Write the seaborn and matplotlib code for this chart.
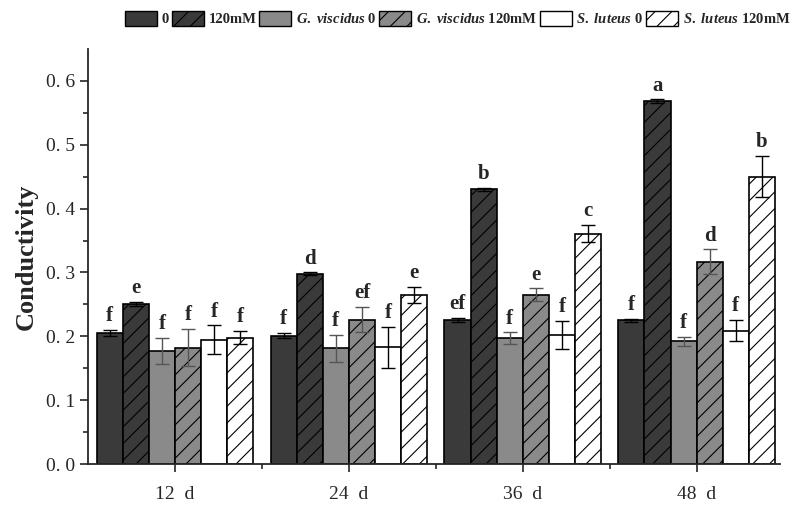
import pandas as pd
import matplotlib.pyplot as plt
import seaborn as sns
import numpy as np
from matplotlib.patches import Patch

days = ['12  d', '24  d', '36  d', '48  d']
treatments = ['0', '120mM', 'G. viscidus 0', 'G. viscidus 120mM', 'S. luteus 0', 'S. luteus 120mM']

means = {
    '0':                 [0.205, 0.201, 0.226, 0.225],
    '120mM':             [0.251, 0.298, 0.430, 0.568],
    'G. viscidus 0':     [0.177, 0.181, 0.197, 0.192],
    'G. viscidus 120mM': [0.182, 0.226, 0.265, 0.317],
    'S. luteus 0':       [0.195, 0.183, 0.202, 0.209],
    'S. luteus 120mM':   [0.198, 0.265, 0.361, 0.450],
}
errs = {
    '0':                 [0.005, 0.004, 0.003, 0.002],
    '120mM':             [0.003, 0.002, 0.003, 0.003],
    'G. viscidus 0':     [0.021, 0.021, 0.009, 0.007],
    'G. viscidus 120mM': [0.029, 0.020, 0.010, 0.019],
    'S. luteus 0':       [0.022, 0.032, 0.022, 0.017],
    'S. luteus 120mM':   [0.010, 0.013, 0.014, 0.032],
}
letters = {
    '0':                 ['f', 'f', 'ef', 'f'],
    '120mM':             ['e', 'd', 'b', 'a'],
    'G. viscidus 0':     ['f', 'f', 'f', 'f'],
    'G. viscidus 120mM': ['f', 'ef', 'e', 'd'],
    'S. luteus 0':       ['f', 'f', 'f', 'f'],
    'S. luteus 120mM':   ['f', 'e', 'c', 'b'],
}
y_ticks = [0.0, 0.1, 0.2, 0.3, 0.4, 0.5, 0.6]
y_ticklabels = ['0. 0', '0. 1', '0. 2', '0. 3', '0. 4', '0. 5', '0. 6']

colors = ['#3a3a3a', '#3a3a3a', '#8a8a8a', '#8a8a8a', '#ffffff', '#ffffff']
hatches = ['', '//', '', '//', '', '//']
legend_labels = ['0', '120mM',
                 r'$\it{G.\ viscidus}$ 0', r'$\it{G.\ viscidus}$ 120mM',
                 r'$\it{S.\ luteus}$ 0', r'$\it{S.\ luteus}$ 120mM']

rows = []
for t in treatments:
    for i, d in enumerate(days):
        rows.append({'day': d, 'treatment': t, 'value': means[t][i]})
df = pd.DataFrame(rows)

sns.set_style('ticks')
plt.rcParams['font.family'] = ['Liberation Serif', 'DejaVu Serif']
plt.rcParams['mathtext.fontset'] = 'custom'
plt.rcParams['mathtext.it'] = 'Liberation Serif:italic:bold'
plt.rcParams['mathtext.rm'] = 'Liberation Serif:bold'
plt.rcParams['hatch.linewidth'] = 0.8

fig = plt.figure(figsize=(7.96, 5.08), dpi=100)
ax = fig.add_axes([0.1106, 0.0866, 0.8694, 0.8169])

sns.barplot(data=df, x='day', y='value', hue='treatment', order=days,
            hue_order=treatments, palette=colors, width=0.9,
            errorbar=None, edgecolor='black', linewidth=1.2,
            saturation=1, legend=False, ax=ax)

for k, (t, cont) in enumerate(zip(treatments, ax.containers)):
    for i, bar in enumerate(cont):
        bar.set_hatch(hatches[k])
        cx = bar.get_x() + bar.get_width() / 2
        h = bar.get_height()
        ecol = '#555555' if k in (2, 3) else 'black'
        ax.errorbar(cx, h, yerr=errs[t][i], color=ecol, capsize=5,
                    elinewidth=1.0, capthick=1.0, fmt='none')
        ax.text(cx, h + errs[t][i] + 0.006, letters[t][i], ha='center',
                va='bottom', fontsize=15, fontweight='bold')

ax.set_xlim(-0.5, 3.48)
ax.set_ylim(0, 0.65)
ax.set_yticks(y_ticks)
ax.set_yticklabels(y_ticklabels)
ax.set_yticks(np.arange(0.05, 0.65, 0.1), minor=True)
ax.set_xticks([0.5, 1.5, 2.5], minor=True)
ax.tick_params(axis='both', which='major', direction='out', length=6, width=1.2, labelsize=14)
ax.tick_params(axis='x', which='major', pad=10)
ax.tick_params(axis='both', which='minor', direction='out', length=3.5, width=1.2)
ax.set_xlabel('')
ax.set_ylabel('Conductivity', fontsize=19, fontweight='bold', labelpad=6)
for s in ['left', 'bottom']:
    ax.spines[s].set_linewidth(1.3)
sns.despine(ax=ax)

handles = [Patch(facecolor=c, edgecolor='black', hatch=h, linewidth=1.0)
           for c, h in zip(colors, hatches)]
fig.legend(handles, legend_labels, loc='upper center', bbox_to_anchor=(0.575, 1.005),
           ncol=6, frameon=False, handlelength=2.2, handleheight=1.2,
           handletextpad=0.3, columnspacing=0.2,
           prop={'weight': 'bold', 'size': 10.5})

fig.savefig('out.png', dpi=100)
